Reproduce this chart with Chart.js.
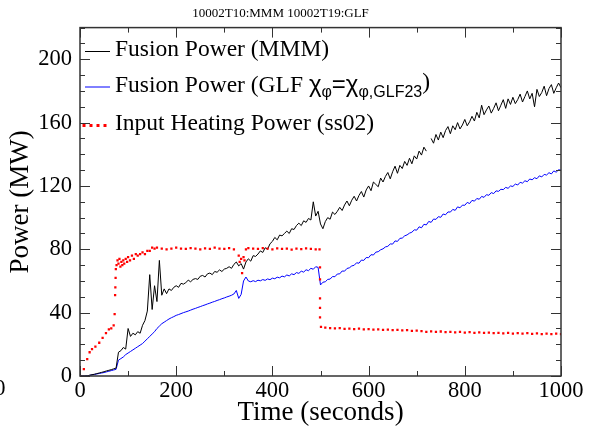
<!DOCTYPE html>
<html lang="en">
<head>
    <meta charset="UTF-8">
    <title>10002T10:MMM 10002T19:GLF</title>
    <script src="https://cdn.jsdelivr.net/npm/chart.js"></script>
    <style>
        html, body {
            margin: 0;
            padding: 0;
            background-color: #ffffff;
        }
    </style>
</head>
<body>
    <canvas id="powerChart" width="594" height="432"></canvas>

    <script>
        // time grid (seconds) shared by the two fusion power curves, 5 s apart
        const timeGrid = Array.from({length: 201}, (_, i) => i * 5);

        // Fusion Power (MMM), MW
        const mmmPower = [
            0, 0, 0, 0, 0.5, 0.8, 1.1, 1.5, 1.9, 2.3,
            2.7, 3.2, 3.6, 4.0, 4.5, 5.0, 15, 16, 18, 17,
            30, 25, 27, 26, 28, 27, 32, 35, 41, 64,
            42, 57, 47, 73, 51, 55, 52, 55, 54, 56,
            57, 56, 58.5, 58, 59, 60.5, 59.5, 61, 61.5, 61,
            63, 63.5, 62.5, 64.5, 65, 64, 66, 65.5, 67, 66,
            67.5, 68, 69, 68, 70.5, 72, 69.5, 71, 67.5, 72,
            74, 72.5, 76, 75.5, 77, 79, 78, 81, 80, 83.5,
            85, 87.5, 86, 89, 88.5, 90, 91.5, 90, 93, 92.5,
            95, 96.5, 95, 98, 97, 99.5, 98.5, 110, 101, 104,
            96, 93, 97.5, 100, 99, 103.5, 102, 104, 106.5, 104.5,
            108, 110.5, 107.5, 111, 113.5, 110.5, 114, 116.5, 113, 117.5,
            120, 117, 122.5, 121, 119.5, 125, 122.5, 126, 128.5, 124.5,
            129, 132.5, 128, 133, 131, 135.5, 133, 137.5, 134, 139,
            137, 142, 139.5, 144.5, 142, null, 150, 147, 152.5, 149,
            154, 150.5, 155, 157.5, 153, 158, 155.5, 160, 156, 158.5,
            162, 158, 160.5, 164, 161, 166.5, 163, 171, 165, 168,
            170.5, 166, 169, 172.5, 167.5, 171, 174.5, 169, 175, 171.5,
            176, 172, 174.5, 178, 173, 176.5, 180, 175, 178.5, 170,
            181, 176.5, 179, 183, 177, 181.5, 184, 178.5, 182, 185,
            182
        ];

        // Fusion Power (GLF chi_phi = chi_phi,GLF23), MW
        const glfPower = [
            0, 0, 0, 0.2, 0.4, 0.7, 1.0, 1.3, 1.6, 1.9,
            2.2, 2.6, 3.0, 3.4, 3.8, 4.2, 10, 11, 12, 13.5,
            14.5, 15.5, 16.5, 17.5, 18.5, 19.5, 20.5, 22, 23.5, 25,
            26.5, 28, 30, 31.5, 33, 34, 35, 36, 36.8, 37.5,
            38.3, 38.8, 39.4, 40, 40.5, 41, 41.6, 42.2, 42.7, 43.3,
            43.8, 44.4, 44.9, 45.5, 46, 46.6, 47.1, 47.7, 48.2, 48.8,
            49.3, 49.9, 50.4, 51, 51.8, 54, 49, 51.5, 60, 62.5,
            60, 59.5, 60.2, 59.6, 60.5, 60.1, 60.9, 60.4, 61.3, 60.8,
            61.8, 61.4, 62.4, 62, 63.1, 62.6, 63.8, 63.2, 64.5, 64,
            65.3, 64.8, 66.2, 65.6, 67.1, 66.5, 68, 67.4, 69, 68.6,
            57.5, 59.2, 59.5, 61, 61.2, 62.8, 62.7, 64.4, 64.5, 66.3,
            66.2, 67.9, 68.3, 69.5, 69.9, 71.5, 71.2, 73.2, 73, 74.8,
            74.7, 76.6, 76.4, 78.2, 78.5, 79.7, 80.3, 81.5, 81.9, 83.4,
            83.3, 85.3, 85, 86.9, 87.1, 88.5, 89.1, 90.2, 90.8, 92.3,
            92.1, 94.2, 93.6, 95.8, 95.4, 97.6, 97, 99.1, 98.9, 100.6,
            100.2, 102.3, 101.8, 103.6, 103.5, 105.2, 104.6, 106.8, 106.2, 107.9,
            107.8, 109.6, 108.9, 110.9, 110.4, 112.1, 111.6, 113.4, 112.8, 114.5,
            114.1, 115.8, 115.2, 116.9, 116.6, 117.9, 117.7, 119.1, 118.5, 120,
            119.7, 121.2, 120.6, 122.3, 121.8, 123.3, 122.7, 124.4, 123.9, 125.2,
            124.6, 126.4, 125.7, 127.3, 126.9, 128.4, 127.6, 129.5, 128.7, 130.2,
            130
        ];

        // Input Heating Power (ss02)
        const heatTime = [
            0, 8, 15, 20, 25, 32, 40, 47, 54, 60, 65, 70, 72, 73, 73.5, 74, 74.5,
            76, 78, 80, 82, 84, 86, 88, 90, 92, 95, 98, 100, 104, 108, 112, 116,
            120, 125, 130, 135, 140, 145, 150, 155, 160, 170, 180, 190, 200, 210,
            220, 230, 240, 250, 260, 270, 280, 290, 300, 310, 320, 330, 332, 335,
            337, 340, 342, 345, 350, 360, 370, 380, 390, 400, 410, 420, 430, 440,
            450, 460, 470, 480, 490, 498, 499, 499, 499, 499, 499, 501, 510, 520,
            530, 540, 550, 560, 570, 580, 590, 600, 610, 620, 630, 640, 650, 660,
            670, 680, 690, 700, 710, 720, 730, 740, 750, 760, 770, 780, 790, 800,
            810, 820, 830, 840, 850, 860, 870, 880, 890, 900, 910, 920, 930, 940,
            950, 960, 970, 980, 990, 1000
        ];
        const heatPower = [
            0, 4.4, 10.7, 15, 17, 18.5, 21, 24, 27, 29.5, 30, 32, 39, 51, 56, 62, 67.5,
            70, 73, 71, 74, 69, 72, 70, 73, 71, 74, 72, 75, 73, 76, 74, 77,
            76, 77, 78, 77, 79, 79, 81, 80.5, 81, 80.5, 80, 80.5, 81, 80.5,
            80.2, 80.8, 80.5, 80, 80.6, 80.3, 81, 80.5, 80.2, 80.7, 80, 76, 72, 74,
            65, 75, 73, 80, 80.8, 80.5, 80.2, 80.8, 80.4, 80, 80.6, 80.2, 80.5, 79.8,
            80.4, 80.1, 80.6, 80.2, 80, 80, 68.6, 61, 49, 43, 37, 31, 30.5, 30.2,
            30, 30.3, 29.8, 29.9, 29.6, 29.9, 29.5, 29.6, 29.3, 29.5, 29.1, 29.3, 28.9, 29.2,
            28.8, 28.9, 28.5, 28.7, 28.3, 27.8, 28.2, 27.9, 28.1, 27.7, 27.9, 27.6, 27.8, 27.4,
            27.7, 27.3, 27.5, 27.2, 27.4, 27, 27.3, 26.9, 27.2, 26.8, 27.1, 26.7, 27, 26.6,
            26.9, 26.5, 26.8, 26.4, 26.7, 26.5
        ];

        const xTickStep = 200;
        const yTickStep = 40;

        const serif = "'Liberation Serif', 'Times New Roman', serif";
        const sans = "'Liberation Sans', Arial, sans-serif";

        // box with inward ticks on all four sides, like the original plot
        const frameTicks = {
            id: 'frameTicks',
            afterDraw(chart) {
                const {ctx, chartArea: a, scales: {x, y}} = chart;
                ctx.save();
                ctx.strokeStyle = '#333';
                ctx.lineWidth = 1;
                ctx.beginPath();
                for (let v = 0; v <= 1000; v += 100) {
                    const px = Math.round(x.getPixelForValue(v)) + 0.5;
                    const len = v % xTickStep === 0 ? 10 : 5;
                    ctx.moveTo(px, a.bottom); ctx.lineTo(px, a.bottom - len);
                    ctx.moveTo(px, a.top); ctx.lineTo(px, a.top + len);
                }
                for (let v = 0; v <= 220; v += 10) {
                    const py = Math.round(y.getPixelForValue(v)) + 0.5;
                    const len = v % yTickStep === 0 ? 10 : 5;
                    ctx.moveTo(a.left, py); ctx.lineTo(a.left + len, py);
                    ctx.moveTo(a.right, py); ctx.lineTo(a.right - len, py);
                }
                ctx.stroke();
                ctx.lineWidth = 1.5;
                ctx.strokeRect(a.left, a.top, a.right - a.left, a.bottom - a.top);

                // clipped label left over from the neighbouring panel
                ctx.fillStyle = '#000';
                ctx.font = '22.5px ' + serif;
                ctx.textAlign = 'right';
                ctx.textBaseline = 'middle';
                ctx.fillText('0', 5.5, 389);
                ctx.restore();
            }
        };

        function drawRich(ctx, x, y, parts) {
            parts.forEach(p => {
                ctx.font = p.font;
                ctx.fillText(p.text, x, y + (p.dy || 0));
                x += ctx.measureText(p.text).width;
            });
        }

        const legendBox = {
            id: 'legendBox',
            afterDraw(chart) {
                const ctx = chart.ctx;
                ctx.save();
                ctx.textAlign = 'left';
                ctx.textBaseline = 'alphabetic';
                ctx.fillStyle = '#000';
                const big = '23.5px ' + serif;

                ctx.lineWidth = 1;
                ctx.strokeStyle = '#000000';
                ctx.beginPath(); ctx.moveTo(85, 51.5); ctx.lineTo(110, 51.5); ctx.stroke();
                drawRich(ctx, 115, 56, [{text: 'Fusion Power (MMM)', font: big}]);

                ctx.strokeStyle = '#0000ff';
                ctx.beginPath(); ctx.moveTo(85, 87); ctx.lineTo(110, 87); ctx.stroke();
                drawRich(ctx, 115, 92, [
                    {text: 'Fusion Power (GLF ', font: big},
                    {text: 'χ', font: '24px ' + sans},
                    {text: 'φ', font: '16px ' + sans, dy: 5},
                    {text: '=', font: '24px ' + sans},
                    {text: 'χ', font: '24px ' + sans},
                    {text: 'φ,GLF23', font: '16px ' + sans, dy: 5},
                    {text: ')', font: big, dy: -3}
                ]);

                ctx.fillStyle = '#ff0000';
                [84, 91, 98, 105].forEach(px => ctx.fillRect(px - 1.5, 124, 3, 3));
                ctx.fillStyle = '#000';
                drawRich(ctx, 115, 130, [{text: 'Input Heating Power (ss02)', font: big}]);
                ctx.restore();
            }
        };

        const ctx = document.getElementById('powerChart').getContext('2d');
        const powerChart = new Chart(ctx, {
            type: 'line',
            data: {
                datasets: [{
                    label: 'Input Heating Power (ss02)',
                    data: heatTime.map((t, i) => ({x: t, y: heatPower[i]})),
                    showLine: false,
                    pointStyle: 'rect',
                    pointRadius: 1.6,
                    pointBackgroundColor: '#ff0000',
                    pointBorderWidth: 0,
                    borderColor: '#ff0000'
                }, {
                    label: 'Fusion Power (MMM)',
                    data: timeGrid.map((t, i) => ({x: t, y: mmmPower[i]})),
                    borderColor: '#000000',
                    borderWidth: 1,
                    pointRadius: 0,
                    tension: 0,
                    spanGaps: false
                }, {
                    label: 'Fusion Power (GLF)',
                    data: timeGrid.map((t, i) => ({x: t, y: glfPower[i]})),
                    borderColor: '#0000ff',
                    borderWidth: 1,
                    pointRadius: 0,
                    tension: 0
                }]
            },
            options: {
                animation: false,
                responsive: false,
                events: [],
                layout: {
                    padding: {top: 0, right: 33, bottom: 0, left: 0}
                },
                plugins: {
                    legend: {display: false},
                    tooltip: {enabled: false},
                    title: {
                        display: true,
                        text: '10002T10:MMM 10002T19:GLF',
                        color: '#000',
                        font: {family: serif, size: 13, weight: 'normal'},
                        padding: {top: 6, bottom: 6}
                    }
                },
                scales: {
                    x: {
                        type: 'linear',
                        min: 0,
                        max: 1000,
                        afterFit: s => { s.height = 56; },
                        grid: {display: false, drawTicks: false},
                        border: {display: false},
                        ticks: {
                            stepSize: xTickStep,
                            padding: 2,
                            maxRotation: 0,
                            color: '#000',
                            font: {family: serif, size: 22.5},
                            callback: v => String(v)
                        },
                        title: {
                            display: true,
                            text: 'Time (seconds)',
                            color: '#000',
                            font: {family: serif, size: 27},
                            padding: {top: 0, bottom: 3}
                        }
                    },
                    y: {
                        min: 0,
                        max: 220,
                        afterFit: s => { s.width = 80; },
                        grid: {display: false, drawTicks: false},
                        border: {display: false},
                        ticks: {
                            stepSize: yTickStep,
                            includeBounds: false,
                            padding: 8,
                            color: '#000',
                            font: {family: serif, size: 22.5},
                            callback: v => String(v)
                        },
                        title: {
                            display: true,
                            text: 'Power (MW)',
                            color: '#000',
                            font: {family: serif, size: 27},
                            padding: {top: 5, bottom: 0}
                        }
                    }
                }
            },
            plugins: [frameTicks, legendBox]
        });
    </script>
</body>
</html>
